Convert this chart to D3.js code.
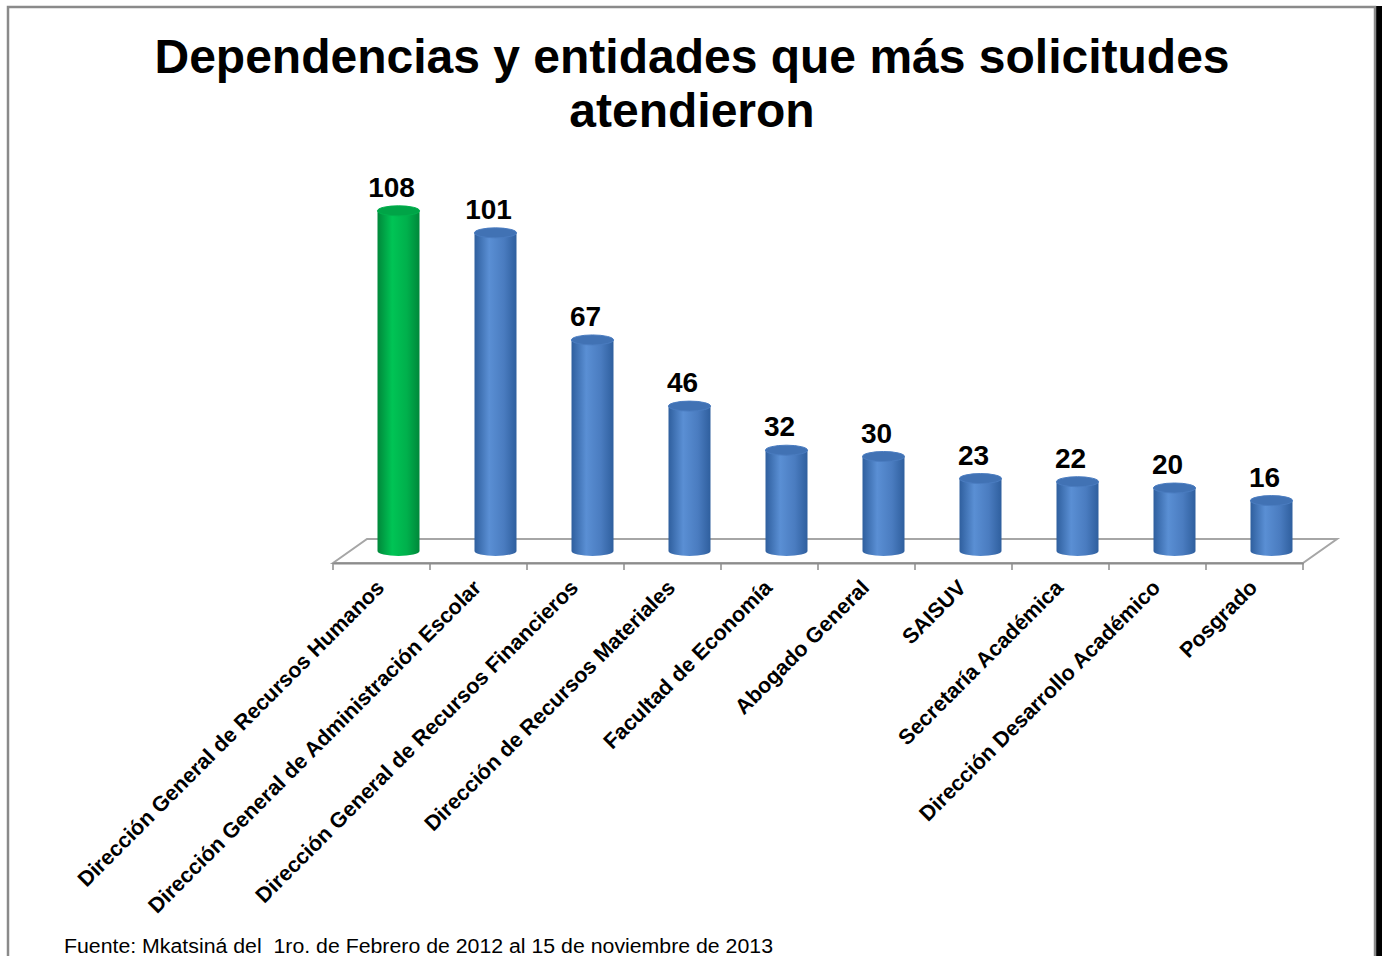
<!DOCTYPE html>
<html>
<head>
<meta charset="utf-8">
<script src="https://cdn.jsdelivr.net/npm/d3@7"></script>
<style>
  body { margin: 0; background: #fff; }
  text { font-family: Arial, "Liberation Sans", sans-serif; }
</style>
</head>
<body>
<div id="chart"></div>
<script>
//data
var categories = ["Dirección General de Recursos Humanos", "Dirección General de Administración Escolar",
    "Dirección General de Recursos Financieros", "Dirección de Recursos Materiales", "Facultad de Economía",
    "Abogado General", "SAISUV", "Secretaría Académica", "Dirección Desarrollo Académico", "Posgrado"];
var values = [108, 101, 67, 46, 32, 30, 23, 22, 20, 16];
var highlight = "Dirección General de Recursos Humanos";

var width = 1382, height = 956;

var svg = d3.select("#chart").append("svg")
    .attr("width", width)
    .attr("height", height);

//gradients for the cylinders
var defs = svg.append("defs");
function cylGrad(id, dark, light, mid) {
    var g = defs.append("linearGradient").attr("id", id)
        .attr("x1", "0%").attr("x2", "100%").attr("y1", "0%").attr("y2", "0%");
    g.append("stop").attr("offset", "0%").attr("stop-color", dark);
    g.append("stop").attr("offset", "35%").attr("stop-color", light);
    g.append("stop").attr("offset", "70%").attr("stop-color", mid);
    g.append("stop").attr("offset", "100%").attr("stop-color", dark);
}
cylGrad("blueGrad", "#2f5f9e", "#5a8fd4", "#4a7cc0");
cylGrad("greenGrad", "#00883a", "#00c455", "#00b04c");

//frame
svg.append("rect").attr("x", 1376).attr("y", 6).attr("width", 6).attr("height", height)
    .attr("fill", "#000");
svg.append("rect").attr("x", 8).attr("y", 7).attr("width", 1367).attr("height", height + 10)
    .attr("fill", "none").attr("stroke", "#8a8a8a").attr("stroke-width", 2.5);

//title
var title = svg.append("text").attr("text-anchor", "middle")
    .style("font-size", "48px").style("font-weight", "bold");
title.append("tspan").attr("x", 692).attr("y", 73).text("Dependencias y entidades que más solicitudes");
title.append("tspan").attr("x", 692).attr("y", 127).text("atendieron");

//floor / axis geometry
var frontY = 563, depthX = 34, depthY = -24;
var x = d3.scaleBand().domain(categories).range([333, 1303]).padding(0);
var baseY = frontY + depthY / 2;
var y = d3.scaleLinear().domain([0, 120]).range([baseY, baseY - 378]);

var x0 = x.range()[0], x1 = x.range()[1];
svg.append("path")
    .attr("d", "M" + x0 + "," + frontY + "L" + (x0 + depthX) + "," + (frontY + depthY) +
        "L" + (x1 + depthX) + "," + (frontY + depthY) + "L" + x1 + "," + frontY + "Z")
    .attr("fill", "#fff").attr("stroke", "#a6a6a6").attr("stroke-width", 2);

var axis = d3.axisBottom(x).tickSize(7).tickFormat("").tickSizeOuter(0);
var ax = svg.append("g").attr("transform", "translate(0," + frontY + ")").call(axis);
ax.select(".domain").attr("stroke", "#8c8c8c").attr("stroke-width", 2);
//ticks on category boundaries
ax.selectAll(".tick").remove();
ax.selectAll(".bnd").data(categories.concat(["end"])).enter().append("line")
    .attr("x1", (d, i) => x0 + i * x.bandwidth()).attr("x2", (d, i) => x0 + i * x.bandwidth())
    .attr("y1", 0).attr("y2", 7).attr("stroke", "#8c8c8c").attr("stroke-width", 1.5);

//cylinders
var rx = 21, ry = 5;
var bars = svg.selectAll(".bar").data(categories).enter().append("g").attr("class", "bar");
bars.each(function (d, i) {
    var g = d3.select(this);
    var cx = x(d) + x.bandwidth() / 2 + depthX / 2;
    var top = y(values[i]);
    var isH = d === highlight;
    var fill = isH ? "url(#greenGrad)" : "url(#blueGrad)";
    g.append("path")
        .attr("d", "M" + (cx - rx) + "," + top + "L" + (cx - rx) + "," + baseY +
            "A" + rx + "," + ry + " 0 0 0 " + (cx + rx) + "," + baseY +
            "L" + (cx + rx) + "," + top + "Z")
        .attr("fill", fill);
    g.append("ellipse").attr("cx", cx).attr("cy", top).attr("rx", rx).attr("ry", ry)
        .attr("fill", isH ? "#00a447" : "#4172b4")
        .attr("stroke", isH ? "#00b04c" : "#4a7cc0").attr("stroke-width", 1);
    g.append("text").attr("x", cx - 7).attr("y", top - 14)
        .attr("text-anchor", "middle")
        .style("font-size", "28px").style("font-weight", "bold")
        .text(values[i]);
});

//category labels
svg.selectAll(".cat").data(categories).enter().append("text")
    .attr("class", "cat")
    .attr("text-anchor", "end")
    .attr("transform", (d) => "translate(" + (x(d) + x.bandwidth() / 2 + 4) + "," + 589 + ") rotate(-45)")
    .style("font-size", "21.5px").style("font-weight", "bold")
    .text((d) => d);

//source note
svg.append("text").attr("x", 64).attr("y", 953)
    .attr("xml:space", "preserve").style("white-space", "pre")
    .attr("textLength", 709).attr("lengthAdjust", "spacingAndGlyphs")
    .style("font-size", "20px")
    .text("Fuente: Mkatsiná del  1ro. de Febrero de 2012 al 15 de noviembre de 2013");
</script>
</body>
</html>
